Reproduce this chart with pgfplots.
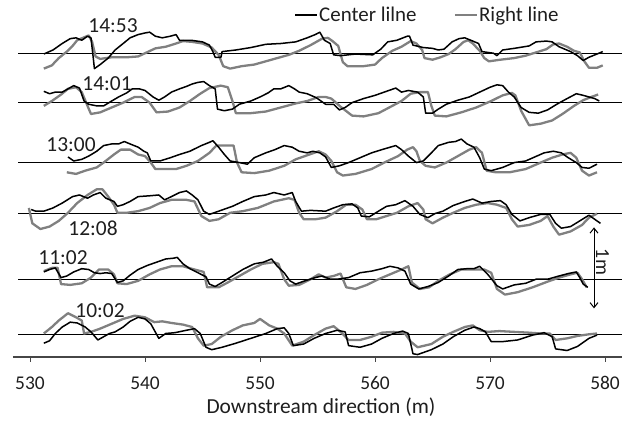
\documentclass[border=0pt]{standalone}
\usepackage{pgfplots}
\pgfplotsset{compat=1.18}
\usepackage{fontspec}
\setmainfont{Carlito}
\usetikzlibrary{arrows.meta}
\definecolor{rgray}{RGB}{128,128,128}
\definecolor{axgray}{RGB}{70,70,70}
\definecolor{txt}{RGB}{30,30,30}
\pgfplotsset{
 cl/.style={black, line width=1.5bp, line join=round, forget plot},
 rl/.style={rgray, line width=2.3bp, line join=round, forget plot},
 bl/.style={black, line width=1.1bp, forget plot},
}
\begin{document}
\begin{tikzpicture}
\begin{axis}[
 x=11.5bp, y=81bp,
 xmin=528.5, xmax=581.5, ymin=0, ymax=4.4,
 axis x line=bottom, axis y line=none,
 axis line style={axgray, line width=1.5bp, -},
 xtick={530,540,...,580},
 tick align=outside,
 major tick length=5bp,
 every tick/.style={axgray, line width=1bp},
 xticklabel style={font=\fontsize{19.5}{23}\selectfont, text=txt, yshift=-11bp},
 /pgf/number format/assume math mode=true,
 /pgf/number format/1000 sep={},
 clip=false,
 xlabel={Downstream direction (m)},
 xlabel style={at={(axis cs:555.3,-0.617)}, anchor=center, font=\fontsize{21.5}{25}\selectfont, text=txt},
 legend style={at={(axis cs:553.0,4.22)}, anchor=west, draw=none, fill=none, inner sep=0pt,
   font=\fontsize{21}{25}\selectfont, text=txt,
   nodes={inner sep=1bp},
   /tikz/every even column/.append style={column sep=36bp}},
 legend columns=2,
 legend cell align=left,
 legend image code/.code={\draw[#1] (0bp,0bp) -- (22bp,0bp);},
]
\addlegendimage{black, line width=1.5bp}
\addlegendentry{Center lilne}
\addlegendimage{rgray, line width=2.5bp}
\addlegendentry{Right line}

% baselines
\addplot[bl] coordinates {(528.96,3.75) (581.48,3.75)};
\addplot[bl] coordinates {(528.96,3.14) (581.48,3.14)};
\addplot[bl] coordinates {(528.96,2.40) (581.48,2.40)};
\addplot[bl] coordinates {(528.96,1.77) (581.48,1.77)};
\addplot[bl] coordinates {(528.96,0.96) (581.48,0.96)};
\addplot[bl] coordinates {(528.96,0.28) (581.48,0.28)};

% ---------- 14:53 ----------
\addplot[rl] table[x=x, y expr=\thisrow{z}+3.75] {
x z
531.2 -0.19
531.9 -0.15
532.5 -0.06
533.2 0.02
533.7 0.09
534.1 0.16
534.6 0.19
535.1 0.22
535.4 0.14
535.7 -0.04
536.1 -0.07
537.1 -0.05
538.4 -0.05
539.4 -0.04
540.0 0.00
540.9 0.06
541.8 0.08
542.7 0.12
543.3 0.15
544.1 0.14
545.0 0.12
545.8 0.07
546.4 -0.02
546.8 -0.16
547.4 -0.19
548.4 -0.16
549.5 -0.14
550.5 -0.10
551.5 -0.06
552.5 -0.02
553.4 0.03
554.4 0.10
555.4 0.18
555.9 0.19
556.3 0.15
556.8 0.09
557.2 -0.11
557.6 -0.16
559.0 -0.16
560.0 -0.14
560.6 -0.06
561.5 0.03
562.3 0.08
563.1 0.15
563.6 0.12
564.1 0.04
564.3 -0.06
565.0 -0.08
565.7 -0.05
566.4 -0.01
567.0 0.05
567.7 0.14
568.1 0.16
568.5 0.12
569.1 0.03
569.5 -0.06
569.9 -0.10
570.9 -0.08
572.1 -0.06
573.1 -0.03
574.0 0.01
574.9 0.05
575.5 0.11
576.0 0.12
576.7 0.08
577.3 0.03
577.8 0.01
578.2 -0.10
578.6 -0.18
579.3 -0.18
579.8 -0.15
};
\addplot[cl] table[x=x, y expr=\thisrow{z}+3.75] {
x z
531.2 -0.01
532.0 0.04
532.8 0.12
533.5 0.18
534.0 0.19
534.5 0.16
535.0 0.21
535.3 0.19
535.5 -0.06
535.6 -0.19
536.1 -0.14
536.8 -0.06
537.4 0.04
538.1 0.12
538.7 0.19
539.4 0.23
540.0 0.25
540.4 0.26
540.9 0.21
541.5 0.19
542.2 0.21
542.7 0.23
543.0 0.16
544.0 0.16
545.0 0.14
545.6 0.10
545.9 0.02
546.1 -0.05
546.6 -0.05
546.7 0.02
547.9 0.04
549.2 0.07
550.5 0.11
551.8 0.12
553.1 0.14
554.1 0.19
554.8 0.23
555.2 0.26
555.6 0.16
556.1 0.12
556.4 -0.02
557.0 -0.03
558.3 -0.01
559.8 -0.02
560.5 0.05
561.1 0.14
561.9 0.16
562.8 0.21
563.0 0.21
563.3 0.10
564.2 0.07
565.0 0.06
565.5 0.04
566.0 0.05
566.7 0.14
567.3 0.18
567.8 0.19
568.5 0.15
569.0 0.12
569.3 0.02
570.3 0.00
570.6 -0.03
571.1 0.04
572.1 0.06
573.4 0.09
574.0 0.14
574.9 0.15
575.4 0.14
576.0 0.08
577.0 0.02
577.6 -0.03
578.1 -0.09
578.6 -0.05
579.3 -0.01
579.8 0.02
};

% ---------- 14:01 ----------
\addplot[rl] table[x=x, y expr=\thisrow{z}+3.14] {
x z
531.2 -0.04
531.9 0.02
532.7 0.10
533.3 0.17
534.0 0.19
534.5 0.13
535.0 -0.04
535.3 -0.14
536.1 -0.12
537.1 -0.06
538.1 0.00
539.1 0.07
539.7 0.07
540.4 0.00
541.0 -0.12
542.0 -0.11
543.0 -0.06
543.9 0.02
544.8 0.11
545.6 0.18
546.6 0.21
547.2 0.19
547.6 0.02
547.9 -0.13
549.2 -0.13
550.5 -0.11
551.8 -0.06
553.1 -0.01
554.1 0.02
555.1 0.07
555.7 0.07
556.2 0.05
557.0 -0.05
558.0 -0.16
559.0 -0.17
560.3 -0.13
561.5 -0.04
562.3 0.02
563.1 0.11
563.9 0.13
564.6 0.13
564.9 -0.04
565.2 -0.16
566.2 -0.17
567.5 -0.12
568.8 -0.06
570.1 0.02
571.1 0.09
571.9 0.12
572.2 0.09
572.7 -0.10
573.4 -0.28
574.4 -0.26
575.4 -0.22
576.3 -0.14
577.3 -0.04
578.1 0.03
578.8 0.07
579.4 0.10
};
\addplot[cl] table[x=x, y expr=\thisrow{z}+3.14] {
x z
531.2 0.14
531.7 0.11
532.2 0.13
532.8 0.13
533.3 0.17
533.8 0.21
534.3 0.18
534.7 0.02
535.1 -0.02
535.8 -0.04
536.4 -0.04
537.1 0.02
537.7 0.07
538.4 0.12
538.9 0.17
539.5 0.17
540.0 0.15
540.7 0.07
541.2 0.03
541.7 0.07
542.3 0.13
543.0 0.17
543.6 0.20
544.1 0.23
544.6 0.25
545.1 0.26
545.6 0.21
546.1 0.17
546.3 -0.08
546.9 -0.10
547.6 -0.08
548.2 -0.02
549.2 0.02
550.0 0.07
550.7 0.12
551.2 0.17
551.8 0.17
552.5 0.21
553.0 0.17
553.4 0.13
554.1 0.11
554.9 0.06
555.7 -0.02
556.4 -0.02
556.9 -0.09
557.4 -0.06
558.0 0.00
559.0 0.05
560.0 0.09
561.0 0.14
561.8 0.18
562.3 0.13
562.9 0.15
563.7 0.13
564.2 0.07
564.4 -0.13
565.0 -0.13
565.5 -0.08
566.2 -0.02
567.2 0.03
568.2 0.07
569.1 0.13
570.0 0.19
570.6 0.22
571.1 0.21
571.6 0.13
572.1 0.07
572.7 -0.06
573.4 -0.12
574.2 -0.13
575.0 -0.09
575.8 -0.02
576.7 0.05
577.5 0.11
578.1 0.09
578.6 0.07
579.1 0.05
579.5 0.02
};

% ---------- 13:00 ----------
\addplot[rl] table[x=x, y expr=\thisrow{z}+2.40] {
x z
533.2 -0.12
534.0 -0.14
534.8 -0.10
535.8 -0.06
536.4 0.00
537.3 0.10
537.9 0.16
538.7 0.16
539.4 0.10
540.0 0.08
540.5 0.00
540.9 -0.08
541.7 -0.08
542.7 -0.08
543.6 -0.04
544.6 0.02
545.6 0.12
546.2 0.21
547.1 0.21
547.7 0.21
548.0 0.00
548.4 -0.12
549.5 -0.13
550.8 -0.10
552.1 -0.04
553.1 0.04
554.3 0.10
555.1 0.14
555.7 0.10
556.2 0.02
556.7 -0.12
557.2 -0.16
558.3 -0.14
559.7 -0.08
560.8 0.00
562.0 0.08
562.8 0.16
563.3 0.19
563.6 0.14
563.9 0.02
564.4 -0.04
565.2 -0.06
566.2 0.00
567.2 0.08
568.2 0.16
568.8 0.19
569.3 0.12
569.7 -0.10
570.5 -0.12
571.7 -0.12
573.1 -0.08
574.4 0.00
575.4 0.06
576.3 0.10
577.0 0.12
577.5 0.06
578.0 -0.10
578.6 -0.16
579.3 -0.12
};
\addplot[cl] table[x=x, y expr=\thisrow{z}+2.40] {
x z
533.3 0.07
533.8 0.02
534.5 0.04
535.1 0.08
535.8 0.14
536.4 0.21
537.1 0.23
537.7 0.23
538.2 0.26
538.7 0.23
539.4 0.19
539.9 0.14
540.2 0.12
540.5 0.02
541.3 0.02
542.2 0.06
543.0 0.10
543.9 0.14
544.9 0.21
545.6 0.25
545.9 0.27
546.4 0.19
546.9 0.10
547.4 0.02
548.2 0.00
548.9 -0.02
549.5 0.06
550.5 0.12
551.3 0.16
552.1 0.21
552.8 0.19
553.4 0.14
554.1 0.12
554.6 0.14
555.2 0.12
555.7 0.07
556.2 -0.06
556.9 -0.04
557.7 0.00
558.7 0.06
559.7 0.12
560.6 0.16
561.8 0.21
562.3 0.16
562.9 0.08
563.6 0.00
564.2 0.02
564.9 0.12
565.5 0.21
566.4 0.25
567.0 0.26
567.5 0.29
568.0 0.23
568.6 0.19
569.1 0.06
569.5 -0.08
570.1 -0.10
571.1 -0.06
572.1 0.00
573.1 0.02
573.9 0.07
574.7 0.12
575.5 0.14
576.2 0.12
576.8 0.06
577.5 0.00
578.0 -0.06
578.6 -0.07
579.3 -0.02
};

% ---------- 12:08 ----------
\addplot[rl] table[x=x, y expr=\thisrow{z}+1.77] {
x z
529.9 0.07
530.2 -0.12
530.9 -0.19
531.7 -0.16
532.5 -0.09
533.3 0.01
534.1 0.13
535.0 0.23
535.8 0.30
536.3 0.30
536.8 0.21
537.3 0.11
537.6 0.01
538.4 0.01
539.4 0.03
540.4 0.07
541.3 0.13
542.3 0.17
543.6 0.17
544.3 0.15
544.9 -0.03
545.6 -0.09
546.4 -0.07
547.4 0.01
548.5 0.03
549.8 0.07
551.2 0.15
552.5 0.19
553.0 0.17
553.4 0.01
553.8 -0.07
554.8 -0.07
555.7 -0.05
556.7 0.03
557.5 0.11
558.3 0.11
558.9 0.05
559.3 -0.07
560.1 -0.07
561.0 -0.03
561.9 0.01
562.9 0.09
563.7 0.13
564.2 0.05
564.4 -0.07
565.0 -0.12
565.9 -0.05
566.8 0.01
567.8 0.07
568.8 0.11
569.8 0.13
570.6 0.11
571.4 0.07
571.9 -0.07
572.4 -0.16
573.4 -0.14
574.4 -0.09
575.0 -0.03
575.5 -0.16
576.0 -0.26
577.0 -0.22
578.0 -0.14
578.6 -0.05
579.3 0.00
};
\addplot[cl] table[x=x, y expr=\thisrow{z}+1.77] {
x z
530.1 0.05
530.5 0.03
531.2 0.03
532.0 0.07
532.8 0.13
533.7 0.21
534.3 0.23
535.0 0.19
535.5 0.23
536.1 0.26
536.6 0.19
537.3 0.15
537.6 0.09
538.1 0.11
538.7 0.15
539.4 0.21
540.4 0.22
541.2 0.23
541.7 0.17
542.3 0.21
543.0 0.26
543.6 0.28
544.1 0.23
544.6 0.17
545.1 0.03
545.6 -0.01
546.4 0.03
547.6 0.09
548.5 0.15
549.5 0.21
550.5 0.23
551.2 0.26
552.1 0.23
552.8 0.26
553.1 0.15
553.6 0.03
554.4 0.04
555.7 0.03
556.4 0.07
557.2 0.11
558.0 0.12
558.5 0.07
558.8 -0.03
559.5 -0.04
560.3 0.03
561.0 0.09
561.8 0.11
562.6 0.16
563.3 0.09
563.9 -0.01
564.6 -0.05
565.2 0.00
565.9 0.03
566.8 0.10
567.8 0.15
568.5 0.18
569.3 0.13
570.1 0.15
570.9 0.16
571.4 0.11
571.9 -0.01
572.6 -0.09
573.4 -0.05
574.4 -0.01
575.2 -0.01
575.7 -0.12
576.2 -0.18
577.0 -0.16
577.8 -0.09
578.6 -0.02
579.1 -0.07
579.6 -0.12
};

% ---------- 11:02 ----------
\addplot[rl] table[x=x, y expr=\thisrow{z}+0.96] {
x z
531.2 0.10
531.9 0.14
532.4 0.14
532.7 -0.06
533.5 -0.07
534.5 -0.05
535.3 0.02
536.0 0.12
536.8 0.12
537.3 0.06
537.6 -0.05
538.4 -0.06
539.4 -0.02
540.4 0.06
541.3 0.12
542.3 0.16
543.3 0.16
544.3 0.12
545.1 0.09
545.4 -0.10
546.4 -0.10
547.2 -0.04
548.2 0.04
549.2 0.12
550.2 0.19
551.2 0.21
551.6 0.19
552.1 0.00
552.5 -0.08
553.4 -0.07
554.4 0.00
555.1 0.06
555.7 0.02
556.4 0.04
557.0 0.07
557.5 -0.10
558.3 -0.12
559.3 -0.07
560.3 0.00
561.3 0.06
562.3 0.12
562.9 0.16
563.2 -0.04
563.9 -0.12
564.7 -0.10
565.5 -0.02
566.5 0.06
567.5 0.12
568.5 0.12
569.5 0.12
570.1 0.08
570.6 -0.12
571.3 -0.19
572.4 -0.16
573.7 -0.10
575.0 -0.03
576.0 0.02
577.0 0.06
577.6 0.08
578.0 0.00
578.4 -0.10
};
\addplot[cl] table[x=x, y expr=\thisrow{z}+0.96] {
x z
531.2 0.09
531.7 0.12
532.2 0.14
532.7 0.02
533.2 0.04
533.8 0.09
534.5 0.13
535.1 0.12
535.6 0.08
536.1 0.07
536.6 0.08
537.1 0.07
537.6 -0.04
538.1 -0.02
538.7 0.05
539.4 0.12
540.2 0.17
541.0 0.21
541.8 0.25
542.5 0.26
542.8 0.27
543.3 0.19
543.9 0.13
544.6 0.08
545.3 0.03
545.6 -0.06
546.1 -0.09
546.7 -0.04
547.6 0.04
548.5 0.12
549.5 0.19
550.3 0.21
551.0 0.25
551.5 0.16
552.1 0.08
552.6 -0.02
553.1 -0.06
553.9 -0.02
554.8 0.02
555.4 0.04
556.1 0.00
556.7 0.00
557.7 0.02
558.7 0.08
559.7 0.10
560.6 0.13
561.3 0.16
562.0 0.14
562.6 0.10
563.1 -0.06
563.8 -0.12
564.6 -0.09
565.5 -0.04
566.4 0.04
567.2 0.12
568.0 0.13
568.6 0.13
569.1 0.16
569.8 0.06
570.6 -0.08
571.1 -0.12
572.1 -0.07
573.1 -0.05
574.0 0.00
575.0 0.00
576.0 0.04
576.8 0.07
577.5 0.09
577.8 0.02
578.1 -0.06
578.5 -0.10
};

% ---------- 10:02 ----------
\addplot[rl] table[x=x, y expr=\thisrow{z}+0.28] {
x z
531.2 0.01
531.9 0.09
532.5 0.17
533.3 0.26
534.0 0.21
534.5 0.17
534.7 0.01
535.3 0.03
536.1 0.07
537.1 0.13
538.1 0.19
539.1 0.23
540.0 0.21
540.8 0.15
541.5 0.16
542.3 0.14
543.3 0.12
544.1 0.09
544.6 -0.05
545.1 -0.14
545.8 -0.12
546.6 -0.03
547.6 0.05
548.5 0.11
549.5 0.14
550.0 0.19
550.8 0.11
551.5 0.07
552.1 0.01
552.8 -0.14
553.8 -0.09
554.7 -0.01
555.7 0.07
556.4 0.10
557.0 0.03
557.7 -0.07
558.7 -0.07
559.7 -0.03
560.6 0.02
561.6 0.03
562.6 0.01
563.1 -0.09
563.7 -0.16
564.9 -0.12
565.9 -0.03
566.8 0.03
567.8 0.09
568.5 0.11
569.1 0.05
569.8 0.03
570.8 0.04
572.1 0.03
573.4 0.02
574.4 0.01
575.2 0.01
575.7 -0.07
576.7 -0.05
577.6 -0.02
578.6 0.00
579.3 0.01
};
\addplot[cl] table[x=x, y expr=\thisrow{z}+0.28] {
x z
531.2 -0.11
531.7 -0.08
532.2 0.01
532.8 0.09
533.5 0.15
534.1 0.14
534.8 0.09
535.3 0.03
535.9 -0.07
536.4 -0.03
536.9 0.01
537.4 0.03
538.1 0.09
538.7 0.16
539.4 0.21
540.0 0.19
540.5 0.13
541.2 -0.05
541.8 0.01
542.6 0.02
543.6 0.05
544.3 0.07
544.8 0.01
545.3 -0.16
545.8 -0.19
546.7 -0.16
547.9 -0.11
549.2 -0.05
550.5 0.01
551.5 0.07
552.1 0.08
552.5 0.01
552.9 -0.14
553.8 -0.12
554.7 -0.05
555.7 0.01
556.7 0.05
557.4 0.03
557.7 -0.14
558.7 -0.16
559.7 -0.12
560.6 -0.05
561.6 0.01
562.4 0.04
562.9 0.01
563.3 -0.24
563.7 -0.25
564.9 -0.19
565.9 -0.12
566.8 -0.03
567.8 0.05
568.6 0.09
569.1 0.07
569.6 0.03
570.1 -0.09
571.1 -0.09
572.4 -0.07
573.7 -0.01
574.7 0.02
575.4 -0.03
575.7 -0.18
576.7 -0.20
577.6 -0.15
578.6 -0.05
579.3 -0.01
};

% time labels
\node[font=\fontsize{21.5}{25}\selectfont, text=txt] at (axis cs:537.22,4.086) {14:53};
\node[font=\fontsize{21.5}{25}\selectfont, text=txt] at (axis cs:536.70,3.370) {14:01};
\node[font=\fontsize{21.5}{25}\selectfont, text=txt] at (axis cs:533.57,2.617) {13:00};
\node[font=\fontsize{21.5}{25}\selectfont, text=txt] at (axis cs:535.48,1.593) {12:08};
\node[font=\fontsize{21.5}{25}\selectfont, text=txt] at (axis cs:532.87,1.222) {11:02};
\node[font=\fontsize{21.5}{25}\selectfont, text=txt] at (axis cs:536.09,0.568) {10:02};

% scale bar
\draw[black, line width=1bp, {Straight Barb[length=5bp,width=8bp]}-{Straight Barb[length=5bp,width=8bp]}] (axis cs:579.04,1.60) -- (axis cs:579.04,0.60);
\node[font=\fontsize{20}{24}\selectfont, text=txt, rotate=-90] at (axis cs:579.78,1.173) {1m};

\coordinate (bbl) at (axis cs:527.39,-0.790);
\coordinate (btr) at (axis cs:582.17,4.407);
\end{axis}
\pgfresetboundingbox
\path (bbl) rectangle (btr);
\end{tikzpicture}
\end{document}
